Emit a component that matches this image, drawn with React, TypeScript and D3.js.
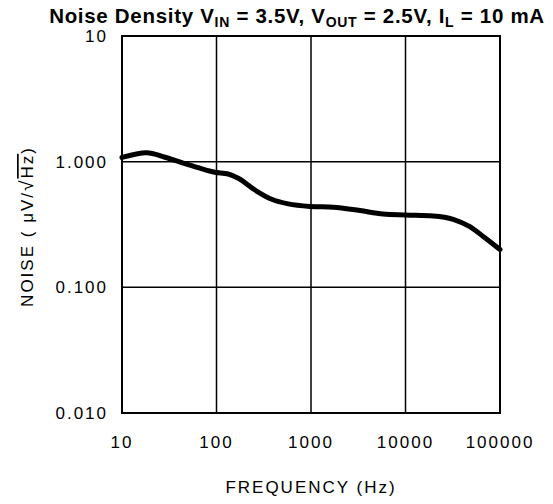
import React from "react";
import * as d3 from "d3";

const freqs = [10, 18.2, 28.5, 42.8, 64, 96, 133, 170, 255, 384, 575, 1000, 1720, 3300, 5800, 10000, 19700, 32000, 48000, 67000, 100000];
const noise = [1.08, 1.179, 1.084, 0.982, 0.895, 0.824, 0.798, 0.738, 0.595, 0.502, 0.461, 0.44, 0.434, 0.408, 0.384, 0.377, 0.37, 0.348, 0.304, 0.253, 0.2];
const xTicks = [10, 100, 1000, 10000, 100000];
const xTickLabels = ["10", "100", "1000", "10000", "100000"];
const yTicks = [0.01, 0.1, 1, 10];
const yTickLabels = ["0.010", "0.100", "1.000", "10"];

const W = 553, H = 504;
const L = 122, R = 500, T = 36, B = 413;

export default function App() {
  const x = d3.scaleLog().domain([10, 100000]).range([L, R]);
  const y = d3.scaleLog().domain([0.01, 10]).range([B, T]);
  const line = d3.line<number>()
    .x((_, i) => x(freqs[i]))
    .y((d) => y(d))
    .curve(d3.curveMonotoneX);
  const font = "'Liberation Sans', Arial, sans-serif";
  return (
    <svg width={W} height={H} style={{ position: "absolute", left: 0, top: 0, background: "#fff" }}>
      <rect x={0} y={0} width={W} height={H} fill="#fff" />
      <text x={297} y={23} textAnchor="middle" fontFamily={font} fontWeight="bold" fontSize={20.5} letterSpacing={0.7} fill="#000">
        Noise Density V<tspan fontSize={14} dy={4}>IN</tspan><tspan dy={-4}> = 3.5V, V</tspan><tspan fontSize={14} dy={4}>OUT</tspan><tspan dy={-4}> = 2.5V, I</tspan><tspan fontSize={14} dy={4}>L</tspan><tspan dy={-4}> = 10 mA</tspan>
      </text>
      {xTicks.slice(1, -1).map((t) => (
        <line key={"gx" + t} x1={x(t)} x2={x(t)} y1={T} y2={B} stroke="#000" strokeWidth={1.5} />
      ))}
      {yTicks.slice(1, -1).map((t) => (
        <line key={"gy" + t} x1={L} x2={R} y1={y(t)} y2={y(t)} stroke="#000" strokeWidth={1.5} />
      ))}
      <rect x={L} y={T} width={R - L} height={B - T} fill="none" stroke="#000" strokeWidth={2} />
      <path d={line(noise) || ""} fill="none" stroke="#000" strokeWidth={5} strokeLinejoin="round" strokeLinecap="round" />
      {xTicks.map((t, i) => (
        <text key={"tx" + t} x={x(t)} y={448} textAnchor="middle" fontFamily={font} fontSize={17} letterSpacing={2} fill="#000">
          {xTickLabels[i]}
        </text>
      ))}
      {yTicks.map((t, i) => (
        <text key={"ty" + t} x={108} y={y(t) + 6} textAnchor="end" fontFamily={font} fontSize={17} letterSpacing={2} fill="#000">
          {yTickLabels[i]}
        </text>
      ))}
      <text x={311} y={493} textAnchor="middle" fontFamily={font} fontSize={17} letterSpacing={2} fill="#000">
        FREQUENCY (Hz)
      </text>
      <g transform={`translate(33, ${(T + B) / 2 + 2}) rotate(-90)`}>
        <text x={0} y={0} textAnchor="middle" fontFamily={font} fontSize={17} letterSpacing={2} fill="#000">
          NOISE ( μV/<tspan fontSize={19}>√</tspan><tspan textDecoration="overline">Hz</tspan>)
        </text>
      </g>
    </svg>
  );
}
